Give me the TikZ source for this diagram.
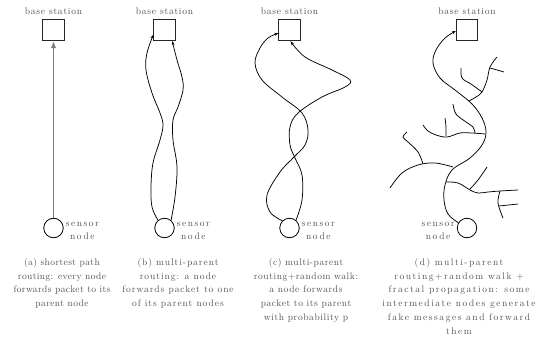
\documentclass[tikz,border=0pt]{standalone}
\usepackage{fontspec}
\setmainfont{lmroman10-regular.otf}
\usepackage{xcolor}
\usetikzlibrary{arrows.meta,positioning}
\definecolor{txtgray}{HTML}{505050}
\definecolor{hopgray}{HTML}{7A7A7A}
\newcommand{\lbfont}[1][4]{\fontsize{9.5}{13.8}\selectfont\addfontfeature{LetterSpace=#1}}
\tikzset{
  station/.style={draw=black!85, minimum size=21.5pt, inner sep=0pt, line width=0.8pt},
  sensor/.style={draw=black, circle, minimum size=19.5pt, inner sep=0pt, line width=0.8pt},
  tag/.style={font=\lbfont[8], text=txtgray, inner sep=1pt, align=center},
  senslabel/.style={font=\lbfont[16], text=txtgray, inner sep=1pt, align=center},
  capt/.style={font=\lbfont[#1], text=txtgray, inner sep=1pt, align=center, anchor=north},
  capt/.default=4,
  hop/.style={-{Latex[length=7pt,width=5.5pt]}, line width=1.8pt, draw=hopgray},
  route/.style={-{Stealth[length=4pt,width=3pt]}, line width=0.75pt},
  twig/.style={line width=0.75pt},
}
\def\cA{53.5}
\def\cB{164.5}
\def\cC{289.5}
\def\cD{467}
\def\yS{30}
\def\yN{228}
\def\yC{257}

\begin{document}
\begin{tikzpicture}[x=1pt,y=-1pt]
  \useasboundingbox (0,0) rectangle (537,339);
  % stations and sensors
  \node[station] (sA) at (\cA,\yS) {}; \node[tag, above=3pt of sA] (lA) {base station};
  \node[station] (sB) at (\cB,\yS) {}; \node[tag, above=3pt of sB] (lB) {base station};
  \node[station] (sC) at (\cC,\yS) {}; \node[tag, above=3pt of sC] (lC) {base station};
  \node[station] (sD) at (\cD,\yS) {}; \node[tag, above=3pt of sD] (lD) {base station};
  \node[sensor] (nA) at (\cA,\yN) {}; \node[senslabel, right=1pt of nA, yshift=-3pt] (tA) {sensor\\node};
  \node[sensor] (nB) at (\cB,\yN) {}; \node[senslabel, right=1pt of nB, yshift=-3pt] (tB) {sensor\\node};
  \node[sensor] (nC) at (\cC,\yN) {}; \node[senslabel, right=1pt of nC, yshift=-3pt] (tC) {sensor\\node};
  \node[sensor] (nD) at (\cD,\yN) {}; \node[senslabel, left=1pt of nD, yshift=-3pt] (tD) {sensor\\node};
  % captions
  \node[capt] (cA) at (62,\yC) {(a) shortest path\\routing: every node\\forwards packet to its\\parent node};
  \node[capt=10] (cB) at (178,\yC) {(b) multi-parent\\routing: a node\\forwards packet to one\\of its parent nodes};
  \node[capt=6] (cC) at (306,\yC) {(c) multi-parent\\routing+random walk:\\a node forwards\\packet to its parent\\with probability p};
  \node[capt=16] (cD) at (459,\yC) {(d) multi-parent\\routing+random walk +\\fractal propagation: some\\intermediate nodes generate\\fake messages and forward\\them};
  % (a)
  \draw[hop] (nA) -- (sA);
  % (b)
  \draw[route] plot[smooth, tension=0.6] coordinates {(nB.130) (152,207) (151,187) (153,163) (160,140) (163,125) (160,113) (152,93) (146,70) (147,53) (sB.203)};
  \draw[route] plot[smooth, tension=0.6] coordinates {(nB.50) (175,197) (177,167) (173,140) (173,120) (178,107) (183,90) (182,77) (177,60) (sB.-55)};
  % (c)
  \draw[route] plot[smooth, tension=0.6] coordinates {(nC.135) (270,212) (267,195) (280,172) (294,157) (305,145) (308,130) (302,113) (282,97) (262,80) (255,63) (260,48) (268,38) (sC.196)};
  \draw[route] plot[smooth, tension=0.6] coordinates {(nC.50) (302,200) (302,175) (295,158) (290,145) (290,127) (298,113) (322,97) (345,87) (350,80) (332,70) (305,57) (sC.-85)};
  % (d)
  \draw[route] plot[smooth, tension=0.6] coordinates {(nD.149) (448,214) (444,200) (445,185) (452,170) (470,158) (482,145) (486,132) (482,118) (472,104) (455,90) (440,78) (433,63) (436,50) (445,38) (sD.185)};
  \draw[twig] plot[smooth, tension=0.6] coordinates {(469,101) (476,97) (482,92) (487,80) (490,67) (497,57)};
  \draw[twig] plot[smooth, tension=0.6] coordinates {(461,68) (462,78) (471,84) (482,92)};
  \draw[twig] plot[smooth, tension=0.6] coordinates {(490,68) (504,72)};
  \draw[twig] plot[smooth, tension=0.6] coordinates {(485,134) (472,133) (460,133) (447,137) (436,135) (428,131) (423,125)};
  \draw[twig] plot[smooth, tension=0.6] coordinates {(446,136) (446,127) (445,118)};
  \draw[twig] plot[smooth, tension=0.6] coordinates {(453,104) (456,114) (466,122) (473,127) (475,133)};
  \draw[twig] plot[smooth, tension=0.6] coordinates {(453,167) (435,163) (418,165) (402,173) (390,188)};
  \draw[twig] plot[smooth, tension=0.6] coordinates {(423,164) (418,152) (408,142) (403,137) (407,132)};
  \draw[twig] plot[smooth, tension=0.6] coordinates {(446,182) (458,183) (470,190) (478,193) (488,192) (500,191) (518,190)};
  \draw[twig] plot[smooth, tension=0.6] coordinates {(470,189) (478,180) (487,167)};
  \draw[twig] plot[smooth, tension=0.6] coordinates {(500,191) (498,203) (503,218)};
  \draw[twig] plot[smooth, tension=0.6] coordinates {(499,206) (518,204)};
\end{tikzpicture}
\end{document}
